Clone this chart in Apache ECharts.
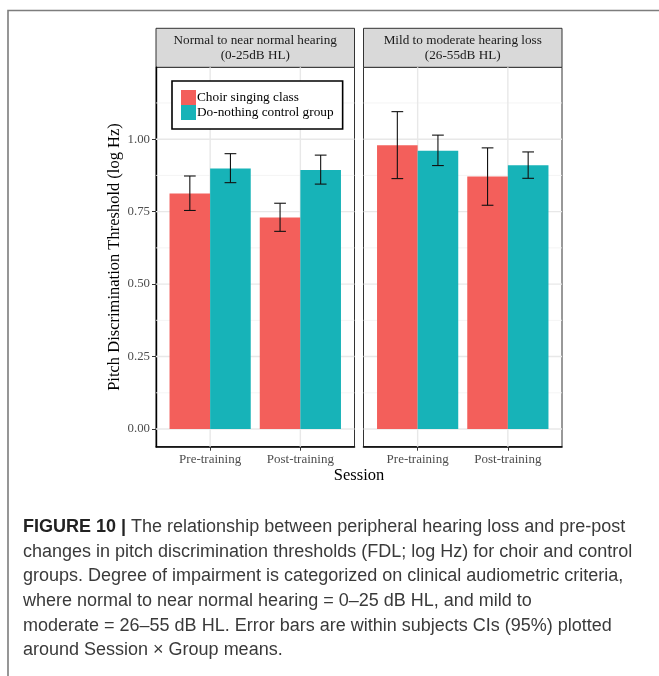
<!DOCTYPE html>
<html>
<head>
<meta charset="utf-8">
<script src="https://cdn.jsdelivr.net/npm/echarts@6/dist/echarts.min.js"></script>
<style>
html,body{margin:0;padding:0;background:#fff;}
#chart{width:659px;height:676px;}
</style>
</head>
<body>
<div id="chart"></div>
<script>
// ---- data ----
const sessions = ['Pre-training', 'Post-training'];
const panelTitles = ['Normal to near normal hearing\n(0-25dB HL)', 'Mild to moderate hearing loss\n(26-55dB HL)'];
const groups = ['Choir singing class', 'Do-nothing control group'];

// Normal to near normal hearing
const normalChoirMean = [0.813, 0.730];
const normalChoirLow = [0.754, 0.682];
const normalChoirHigh = [0.873, 0.779];
const normalControlMean = [0.899, 0.894];
const normalControlLow = [0.850, 0.845];
const normalControlHigh = [0.950, 0.945];

// Mild to moderate hearing loss
const mildChoirMean = [0.979, 0.871];
const mildChoirLow = [0.864, 0.772];
const mildChoirHigh = [1.095, 0.970];
const mildControlMean = [0.960, 0.910];
const mildControlLow = [0.909, 0.865];
const mildControlHigh = [1.014, 0.956];

const yTicks = [0, 0.25, 0.5, 0.75, 1.0];
const yMinorGrid = [0.125, 0.375, 0.625, 0.875, 1.125];

const captionLines = [
  '{b|FIGURE 10 |} The relationship between peripheral hearing loss and pre-post',
  'changes in pitch discrimination thresholds (FDL; log Hz) for choir and control',
  'groups. Degree of impairment is categorized on clinical audiometric criteria,',
  'where normal to near normal hearing = 0\u201325 dB HL, and mild to',
  'moderate = 26\u201355 dB HL. Error bars are within subjects CIs (95%) plotted',
  'around Session \u00d7 Group means.'
];

// ---- style ----
const colors = ['#F35F5B', '#17B3B8'];
const serif = '"Liberation Serif", "DejaVu Serif", serif';
const sans = '"Liberation Sans", Arial, sans-serif';
const dodge = 0.225;   // half of dodge width
const barHalf = 0.225; // half bar width
const capHalf = 0.065;

const panelData = [
  {choir: [normalChoirMean, normalChoirLow, normalChoirHigh], control: [normalControlMean, normalControlLow, normalControlHigh]},
  {choir: [mildChoirMean, mildChoirLow, mildChoirHigh], control: [mildControlMean, mildControlLow, mildControlHigh]}
];

const gridPos = [{left: 156, width: 198.5}, {left: 363.5, width: 198.5}];
const gridTop = 67.3, gridHeight = 379.4;
const stripTop = 28.3;

const chart = echarts.init(document.getElementById('chart'), null, {renderer: 'canvas'});

const grids = [], xAxes = [], yAxes = [], series = [];

gridPos.forEach((g, p) => {
  grids.push({left: g.left, top: gridTop, width: g.width, height: gridHeight,
    show: true, borderColor: '#333', borderWidth: 1, backgroundColor: '#fff', containLabel: false});
  xAxes.push({
    type: 'value', gridIndex: p, min: 0.4, max: 2.6,
    splitLine: {show: false},
    axisLine: {show: true, onZero: false, lineStyle: {color: '#000', width: 1.6}},
    axisTick: {show: true, customValues: sessions.map((s, i) => i + 1), length: 4, lineStyle: {color: '#333', width: 1}},
    axisLabel: {show: true, customValues: sessions.map((s, i) => i + 1),
      formatter: v => sessions[Math.round(v) - 1] || '',
      fontFamily: serif, fontSize: 13, color: '#4d4d4d', margin: 6}
  });
  yAxes.push({
    type: 'value', gridIndex: p, min: -0.061, max: 1.248,
    splitLine: {show: false},
    axisLine: {show: p === 0, onZero: false, lineStyle: {color: '#000', width: 1.4}},
    axisTick: {show: p === 0, customValues: yTicks, length: 4, lineStyle: {color: '#333', width: 1}},
    axisLabel: {show: p === 0, customValues: yTicks, formatter: v => v.toFixed(2),
      fontFamily: serif, fontSize: 12.8, color: '#4d4d4d', margin: 6}
  });

  // gridlines
  const gridLineItem = (params, api, horizontal, width, color) => {
    const cs = params.coordSys;
    const v = api.value(0);
    if (horizontal) {
      const y = api.coord([1, v])[1];
      return {type: 'line', shape: {x1: cs.x, y1: y, x2: cs.x + cs.width, y2: y},
        style: {stroke: color, lineWidth: width}, silent: true};
    } else {
      const x = api.coord([v, 0])[0];
      return {type: 'line', shape: {x1: x, y1: cs.y, x2: x, y2: cs.y + cs.height},
        style: {stroke: color, lineWidth: width}, silent: true};
    }
  };
  series.push({
    type: 'custom', name: 'minorY' + p, xAxisIndex: p, yAxisIndex: p, z: 1, silent: true,
    data: yMinorGrid.map(v => [v]),
    renderItem: (params, api) => gridLineItem(params, api, true, 0.8, '#f1f1f1')
  });
  series.push({
    type: 'custom', name: 'majorY' + p, xAxisIndex: p, yAxisIndex: p, z: 1, silent: true,
    data: yTicks.map(v => [v]),
    renderItem: (params, api) => gridLineItem(params, api, true, 1.4, '#e8e8e8')
  });
  series.push({
    type: 'custom', name: 'majorX' + p, xAxisIndex: p, yAxisIndex: p, z: 1, silent: true,
    data: sessions.map((s, i) => [i + 1]),
    renderItem: (params, api) => gridLineItem(params, api, false, 1.4, '#e8e8e8')
  });

  // bars and error bars
  [panelData[p].choir, panelData[p].control].forEach((arr, gi) => {
    const [mean, low, high] = arr;
    const off = gi === 0 ? -dodge : dodge;
    series.push({
      type: 'custom', name: groups[gi], xAxisIndex: p, yAxisIndex: p, z: 2,
      itemStyle: {color: colors[gi]},
      encode: {x: 0, y: 1},
      data: sessions.map((s, i) => [i + 1, mean[i]]),
      renderItem: (params, api) => {
        const xc = api.value(0) + off;
        const p1 = api.coord([xc - barHalf, api.value(1)]);
        const p2 = api.coord([xc + barHalf, 0]);
        return {type: 'rect', shape: {x: p1[0], y: p1[1], width: p2[0] - p1[0], height: p2[1] - p1[1]},
          style: {fill: colors[gi]}};
      }
    });
    series.push({
      type: 'custom', name: 'err' + p + '_' + gi, xAxisIndex: p, yAxisIndex: p, z: 3,
      encode: {x: 0, y: [1, 2]},
      data: sessions.map((s, i) => [i + 1, low[i], high[i]]),
      renderItem: (params, api) => {
        const xc = api.value(0) + off;
        const lo = api.coord([xc, api.value(1)]);
        const hi = api.coord([xc, api.value(2)]);
        const l1 = api.coord([xc - capHalf, api.value(1)]);
        const r1 = api.coord([xc + capHalf, api.value(1)]);
        const l2 = api.coord([xc - capHalf, api.value(2)]);
        const r2 = api.coord([xc + capHalf, api.value(2)]);
        const st = {stroke: '#111', lineWidth: 1.1};
        return {type: 'group', children: [
          {type: 'line', shape: {x1: lo[0], y1: lo[1], x2: hi[0], y2: hi[1]}, style: st},
          {type: 'line', shape: {x1: l1[0], y1: l1[1], x2: r1[0], y2: r1[1]}, style: st},
          {type: 'line', shape: {x1: l2[0], y1: l2[1], x2: r2[0], y2: r2[1]}, style: st}
        ]};
      }
    });
  });
});

const graphics = [];
// outer frame
graphics.push({type: 'polyline', shape: {points: [[8, 676], [8, 10.5], [659, 10.5]]},
  style: {stroke: '#7d7d7d', lineWidth: 1.6, fill: null}, silent: true});
// strips
gridPos.forEach((g, p) => {
  graphics.push({type: 'rect', shape: {x: g.left, y: stripTop, width: g.width, height: gridTop - stripTop},
    style: {fill: '#d9d9d9', stroke: '#333', lineWidth: 1}, silent: true});
  graphics.push({type: 'text', x: g.left + g.width / 2, y: (stripTop + gridTop) / 2,
    style: {text: panelTitles[p], fontFamily: serif, fontSize: 13.2, lineHeight: 14.5,
      fill: '#1a1a1a', align: 'center', verticalAlign: 'middle'}, silent: true});
});
// axis titles
graphics.push({type: 'text', x: 359, y: 476,
  style: {text: 'Session', fontFamily: serif, fontSize: 16.5, fill: '#000', align: 'center', verticalAlign: 'middle'}});
graphics.push({type: 'text', x: 114.5, y: gridTop + gridHeight / 2, rotation: Math.PI / 2,
  style: {text: 'Pitch Discrimination Threshold (log Hz)', fontFamily: serif, fontSize: 16.5, fill: '#000',
    align: 'center', verticalAlign: 'middle'}});
// caption
captionLines.forEach((t, i) => {
  graphics.push({type: 'text', x: 23, y: 527 + i * 24.7,
    style: {text: t, fontFamily: sans, fontSize: 18, fill: '#3a3a3a', align: 'left', verticalAlign: 'middle',
      rich: {b: {fontFamily: sans, fontSize: 18, fontWeight: 'bold', fill: '#222'}}}});
});

chart.setOption({
  animation: false,
  backgroundColor: '#fff',
  grid: grids,
  xAxis: xAxes,
  yAxis: yAxes,
  legend: {
    data: groups, orient: 'vertical', left: 172, top: 81,
    itemWidth: 15, itemHeight: 15, itemGap: 0, icon: 'rect',
    padding: [9, 9, 9, 9],
    borderColor: '#000', borderWidth: 1.6, backgroundColor: '#fff',
    textStyle: {fontFamily: serif, fontSize: 13.3, color: '#000', padding: [0, 0, 0, -4]},
    selectedMode: false
  },
  series: series,
  graphic: graphics
});
</script>
</body>
</html>
